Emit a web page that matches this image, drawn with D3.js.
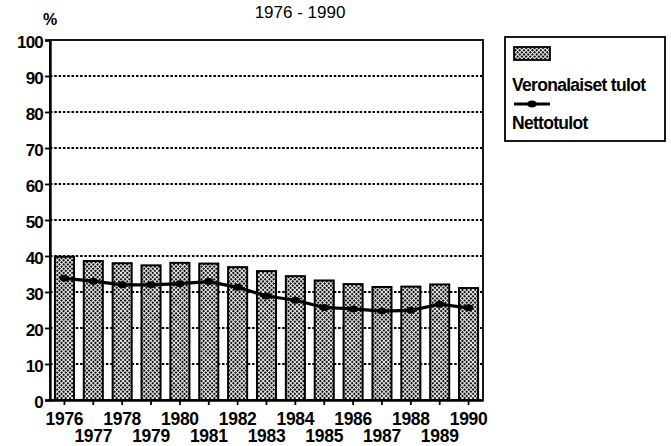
<!DOCTYPE html>
<html>
<head>
<meta charset="utf-8">
<script src="https://cdn.jsdelivr.net/npm/d3@7"></script>
<style>
  html, body { margin: 0; padding: 0; background: #fff; }
  svg { display: block; font-family: "Liberation Sans", Arial, sans-serif; }
</style>
</head>
<body>
<div id="chart"></div>
<script>
// Data
const years = ['1976','1977','1978','1979','1980','1981','1982','1983','1984','1985','1986','1987','1988','1989','1990'];
const taxable = [39.8, 38.6, 38.0, 37.4, 38.1, 37.9, 36.9, 35.8, 34.4, 33.2, 32.2, 31.4, 31.5, 32.1, 31.1];
const net = [33.8, 33.0, 32.0, 32.0, 32.3, 32.9, 31.3, 28.9, 27.7, 25.7, 25.3, 24.7, 24.9, 26.6, 25.6];
const yTicks = [0, 10, 20, 30, 40, 50, 60, 70, 80, 90, 100];
const legendLabels = ['Veronalaiset tulot', 'Nettotulot'];
const title = '1976 - 1990';

const W = 671, H = 446;
const plot = { left: 50, right: 483, top: 40, bottom: 400 };

const svg = d3.select('#chart').append('svg')
    .attr('width', W)
    .attr('height', H);

// dotted fill used by the bars
const defs = svg.append('defs');
const pat = defs.append('pattern')
    .attr('id', 'dots')
    .attr('patternUnits', 'userSpaceOnUse')
    .attr('width', 3)
    .attr('height', 3)
    .attr('patternTransform', 'rotate(45)');
pat.append('rect').attr('width', 3).attr('height', 3).attr('fill', '#fff');
pat.append('rect').attr('width', 2.1).attr('height', 2.1).attr('fill', '#111');

const x = d3.scaleBand()
    .domain(years)
    .range([plot.left, plot.right])
    .paddingInner(0.34)
    .paddingOuter(0.17);

const y = d3.scaleLinear()
    .domain([0, 100])
    .range([plot.bottom, plot.top]);

// title and unit
svg.append('text')
    .attr('x', 300).attr('y', 18)
    .attr('text-anchor', 'middle')
    .style('font-size', '17px')
    .text(title);

svg.append('text')
    .attr('x', 50).attr('y', 25)
    .attr('text-anchor', 'middle')
    .style('font-size', '16px')
    .style('font-weight', 'bold')
    .text('%');

// dotted gridlines
svg.append('g')
    .selectAll('line')
    .data(yTicks.filter(d => d > 0 && d < 100))
    .join('line')
    .attr('x1', plot.left).attr('x2', plot.right)
    .attr('y1', d => y(d)).attr('y2', d => y(d))
    .attr('stroke', '#000')
    .attr('stroke-width', 1.8)
    .attr('stroke-dasharray', '2.5,1.8');

// bars
svg.append('g')
    .selectAll('rect')
    .data(years)
    .join('rect')
    .attr('x', d => x(d))
    .attr('y', (d, i) => y(taxable[i]))
    .attr('width', x.bandwidth())
    .attr('height', (d, i) => y(0) - y(taxable[i]))
    .attr('fill', 'url(#dots)')
    .attr('stroke', '#000')
    .attr('stroke-width', 2);

// net income line
const cx = d => x(d) + x.bandwidth() / 2;
const line = d3.line()
    .x(d => cx(d))
    .y((d, i) => y(net[i]));

svg.append('path')
    .datum(years)
    .attr('d', line)
    .attr('fill', 'none')
    .attr('stroke', '#000')
    .attr('stroke-width', 3.2)
    .attr('stroke-linejoin', 'round');

svg.append('g')
    .selectAll('ellipse')
    .data(years)
    .join('ellipse')
    .attr('cx', d => cx(d))
    .attr('cy', (d, i) => y(net[i]))
    .attr('rx', 5)
    .attr('ry', 3.5)
    .attr('fill', '#000');

// frame: top and right solid, left and bottom axes heavier
svg.append('rect')
    .attr('x', plot.left).attr('y', plot.top)
    .attr('width', plot.right - plot.left)
    .attr('height', plot.bottom - plot.top)
    .attr('fill', 'none')
    .attr('stroke', '#000')
    .attr('stroke-width', 1.8);

// y axis
const yAxis = svg.append('g')
    .attr('transform', `translate(${plot.left},0)`)
    .call(d3.axisLeft(y).tickValues(yTicks).tickSize(5).tickPadding(2));
yAxis.select('.domain').attr('stroke-width', 2.4);
yAxis.selectAll('.tick line').attr('stroke-width', 1.8);
yAxis.selectAll('.tick text')
    .attr('dy', '0.42em')
    .style('font-size', '17px')
    .style('font-weight', 'bold')
    .style('letter-spacing', '-0.8px')
    .attr('fill', '#000');

// x axis, labels staggered on two rows
const xAxis = svg.append('g')
    .attr('transform', `translate(0,${plot.bottom})`)
    .call(d3.axisBottom(x).tickSize(5).tickSizeOuter(0).tickPadding(0));
xAxis.select('.domain').attr('stroke-width', 2.4);
xAxis.selectAll('.tick line').attr('stroke-width', 1.8);
xAxis.selectAll('.tick text')
    .attr('y', (d, i) => i % 2 === 0 ? 25 : 42)
    .attr('dy', 0)
    .style('font-size', '17.5px')
    .style('font-weight', 'bold')
    .style('letter-spacing', '-0.3px')
    .attr('fill', '#000');

// legend
const lg = svg.append('g');
lg.append('rect')
    .attr('x', 505).attr('y', 37)
    .attr('width', 160).attr('height', 104)
    .attr('fill', '#fff')
    .attr('stroke', '#000')
    .attr('stroke-width', 1.8);
lg.append('rect')
    .attr('x', 514).attr('y', 47)
    .attr('width', 36).attr('height', 13)
    .attr('fill', 'url(#dots)')
    .attr('stroke', '#000')
    .attr('stroke-width', 1.8);
lg.append('text')
    .attr('x', 512).attr('y', 91)
    .style('font-size', '17.5px')
    .style('font-weight', 'bold')
    .style('letter-spacing', '-0.7px')
    .text(legendLabels[0]);
lg.append('line')
    .attr('x1', 514).attr('x2', 550)
    .attr('y1', 104).attr('y2', 104)
    .attr('stroke', '#000')
    .attr('stroke-width', 3);
lg.append('ellipse')
    .attr('cx', 532).attr('cy', 104)
    .attr('rx', 5).attr('ry', 3.5)
    .attr('fill', '#000');
lg.append('text')
    .attr('x', 512).attr('y', 129)
    .style('font-size', '17.5px')
    .style('font-weight', 'bold')
    .style('letter-spacing', '-0.7px')
    .text(legendLabels[1]);
</script>
</body>
</html>
